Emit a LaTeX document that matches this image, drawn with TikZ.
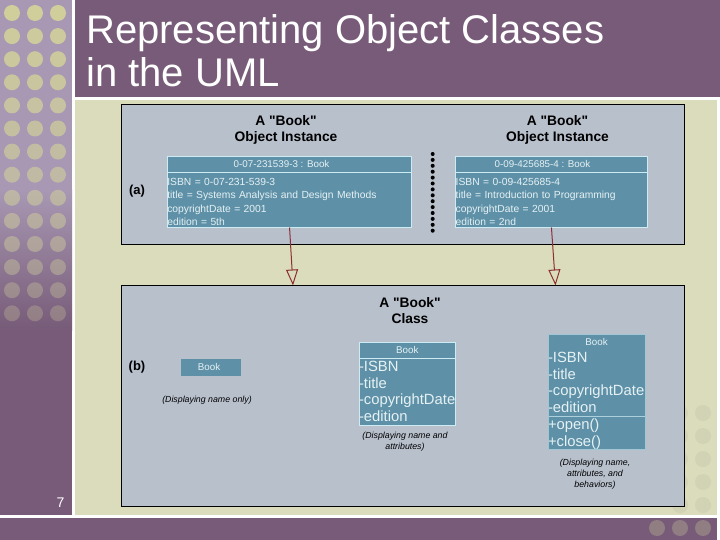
\documentclass[tikz,border=0pt]{standalone}
\usepackage{fontspec}
\setmainfont{Liberation Sans}
\newfontfamily\quotefont{Liberation Sans}
\usetikzlibrary{arrows.meta}
\definecolor{slidepurple}{HTML}{775B78}
\definecolor{stripelight}{HTML}{A898B3}
\definecolor{slidebeige}{HTML}{DBDCBB}
\definecolor{spotcolor}{HTML}{D0CF9C}
\definecolor{panelgrey}{HTML}{B8C0CC}
\definecolor{classteal}{HTML}{5E91A8}
\definecolor{classedge}{HTML}{CDEBF2}
\definecolor{classtext}{HTML}{E6F1F3}
\definecolor{relline}{HTML}{8C2F33}
\newcommand{\dq}{{\quotefont\symbol{34}}}
\tikzset{>=latex,
  panel/.style={draw=black,line width=1pt,fill=panelgrey,anchor=north west,inner sep=0pt,outer sep=0pt},
  heading/.style={align=center,text=black,inner sep=0pt,font=\fontsize{13.8}{16}\selectfont\bfseries},
  partlabel/.style={text=black,inner sep=0pt,font=\fontsize{13}{16}\selectfont\bfseries},
  classcell/.style={draw=classedge,line width=0.8pt,fill=classteal,anchor=north west,inner sep=0pt,outer sep=0pt,text=classtext},
  headcell/.style={classcell,align=center,font=\fontsize{9.8}{11}\selectfont},
  slotcell/.style={classcell,align=left,text width=#1,font=\fontsize{14.8}{16.5}\selectfont},
  slotcell/.default=96pt,
  instcell/.style={classcell,align=left,font=\fontsize{10.3}{13.4}\selectfont},
  caption/.style={align=center,text=black,inner sep=0pt,font=\fontsize{8.8}{11}\selectfont\itshape},
  realizes/.style={draw=relline,line width=1pt,-{Triangle[open,length=16pt,width=12pt]}}
}
\begin{document}
\begin{tikzpicture}[x=1pt,y=-1pt]
\useasboundingbox (0,0) rectangle (720,540);
% slide background
\fill[white] (0,0) rectangle (720,540);
\fill[slidebeige] (75,100) rectangle (717,515);
\fill[slidepurple] (75,0) rectangle (720,97);
\fill[slidepurple] (0,518) rectangle (717,540);
\fill[stripelight] (0,0) rectangle (72,190);
\fill[top color=stripelight,bottom color=slidepurple] (0,190) rectangle (72,330);
\fill[slidepurple] (0,330) rectangle (72,515);
\foreach \row in {0,...,13}{
  \pgfmathsetmacro{\spotfade}{100-5.5*\row}
  \foreach \col in {12,35,58}
    \fill[spotcolor,opacity=\spotfade/100] (\col,13+23.1*\row) circle [radius=8];
}
\foreach \col in {657,680,703}
  \fill[spotcolor,opacity=0.3] (\col,528) circle [radius=8];
\foreach \col in {680,703}
  \foreach \row in {413,436,459,482,505}
    \fill[black!4!slidebeige] (\col,\row) circle [radius=8];
\node[anchor=north west,align=left,inner sep=0pt,text=white,font=\fontsize{40}{43}\selectfont] (slidetitle) at (86,14.5) {Representing Object Classes\\in the UML};
\node[text=white,inner sep=0pt,font=\fontsize{14}{14}\selectfont] (pagenum) at (60.5,503) {7};
% the two panels
\node[panel,minimum width=563pt,minimum height=139.5pt] (panelA) at (121,104.5) {};
\node[panel,minimum width=563pt,minimum height=220.5pt] (panelB) at (121,285.5) {};
\node[partlabel] (labelA) at (137,191) {(a)};
\node[partlabel] (labelB) at (137,367) {(b)};
% object instances
\node[heading] (titleInstA) at (286,129.5) {A \dq Book\dq\\Object Instance};
\node[heading] (titleInstB) at (557.5,129.5) {A \dq Book\dq\\Object Instance};
\node[headcell,minimum width=244.5pt,minimum height=16.5pt] (headInstA) at (167.3,156) {0-07-231539-3 : Book\hspace*{16pt}};
\node[instcell,minimum width=244.5pt,minimum height=55pt,text width=244.5pt] (bodyInstA) at (167.3,172.5) {\rule{0pt}{11pt}ISBN = 0-07-231-539-3\\title = Systems Analysis and Design Methods\\copyrightDate = 2001\\edition = 5th};
\node[headcell,minimum width=191.5pt,minimum height=16.5pt] (headInstB) at (455.7,156) {0-09-425685-4 : Book\hspace*{18pt}};
\node[instcell,minimum width=191.5pt,minimum height=55pt,text width=191.5pt] (bodyInstB) at (455.7,172.5) {\rule{0pt}{11pt}ISBN = 0-09-425685-4\\title = Introduction to Programming\\copyrightDate = 2001\\edition = 2nd};
\coordinate (beadTop) at (432.7,154);
\coordinate (beadEnd) at (432.7,236);
\draw[line width=4pt,line cap=round,dash pattern=on 0pt off 5.9pt] (beadTop) -- (beadEnd);
% class views
\node[heading] (titleClass) at (410,311) {A \dq Book\dq\\Class};
\node[headcell,draw=none,minimum width=60pt,minimum height=17pt] (bookOnly) at (181,358.5) {Book\hspace*{4pt}};
\node[caption] (capOnly) at (207,400) {(Displaying name only)};
\node[headcell,minimum width=96.5pt,minimum height=16pt] (headAttr) at (359,342.3) {Book};
\node[slotcell=96.5pt,minimum height=66.7pt] (slotAttr) at (359,358.3) {-ISBN\\-title\\\mbox{-copyrightDate}\\-edition};
\node[caption] (capAttr) at (405,441.5) {(Displaying name and\\attributes)};
\node[headcell,draw=none,minimum width=97pt,minimum height=15pt] (headFull) at (548,334) {Book};
\node[slotcell=97pt,draw=none,minimum height=67pt] (slotFull) at (548,349) {-ISBN\\-title\\\mbox{-copyrightDate}\\-edition};
\node[slotcell=97pt,draw=none,minimum height=33pt] (opsFull) at (548,416) {\rule{0pt}{13.5pt}+open()\\+close()};
\draw[classedge!70!classteal,line width=0.5pt] (slotFull.south west) -- (slotFull.south east);
\draw[classedge!60!classteal,line width=0.5pt] (headFull.north west) rectangle (opsFull.south east);
\node[caption] (capFull) at (595,474) {(Displaying name,\\attributes, and\\behaviors)};
% instance of
\coordinate (tipA) at (293,285.5);
\coordinate (tipB) at (555.5,285.5);
\draw[realizes] (bodyInstA.south) -- (tipA);
\draw[realizes] (bodyInstB.south) -- (tipB);
\end{tikzpicture}
\end{document}
